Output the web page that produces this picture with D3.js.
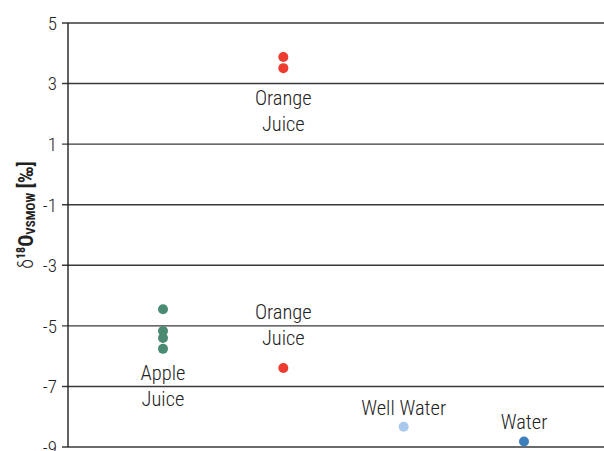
<!DOCTYPE html>
<html>
<head>
<meta charset="utf-8">
<script src="https://cdn.jsdelivr.net/npm/d3@7"></script>
<style>
	body { margin: 0; background: #fff; }
	svg { display: block; font-family: 'Roboto Condensed', 'Liberation Sans Narrow', 'DejaVu Sans Condensed', sans-serif; }
</style>
</head>
<body>
<svg id="chart" width="604" height="451"></svg>
<script>
const W = 604;

const categories = ['Apple Juice', 'Orange Juice', 'Well Water', 'Water'];
const yTicks = [5, 3, 1, -1, -3, -5, -7, -9];

// δ18O values per sample group
const appleJuice = [-4.45, -5.17, -5.40, -5.76];
const orangeJuiceHigh = [3.88, 3.51];
const orangeJuiceLow = [-6.39];
const wellWater = [-8.33];
const water = [-8.82];

const colors = {
	apple: '#4b8b71',
	orange: '#ee3b2f',
	well: '#a9c9ea',
	water: '#3d7fbd'
};

// gap = distance in px from the nearest point to the nearest label line
const groups = [
	{ cat: 'Apple Juice', values: appleJuice, color: colors.apple, label: ['Apple', 'Juice'], below: true, gap: 24 },
	{ cat: 'Orange Juice', values: orangeJuiceHigh, color: colors.orange, label: ['Orange', 'Juice'], below: true, gap: 29 },
	{ cat: 'Orange Juice', values: orangeJuiceLow, color: colors.orange, label: ['Orange', 'Juice'], below: false, gap: 30 },
	{ cat: 'Well Water', values: wellWater, color: colors.well, label: ['Well Water'], below: false, gap: 19 },
	{ cat: 'Water', values: water, color: colors.water, label: ['Water'], below: false, gap: 20 }
];

const marginL = 68;
const plotTop = 23;
const plotBottom = 447;

const x = d3.scalePoint().domain(categories).range([163, 524]);
const y = d3.scaleLinear().domain([-9, 5]).range([plotBottom, plotTop]);

const svg = d3.select('#chart');

// gridlines
svg.append('g')
	.selectAll('line')
	.data(yTicks)
	.join('line')
	.attr('x1', marginL - 6)
	.attr('x2', W)
	.attr('y1', d => y(d))
	.attr('y2', d => y(d))
	.attr('stroke', '#3a3a3a')
	.attr('stroke-width', 1.4);

// axis line
svg.append('line')
	.attr('x1', marginL)
	.attr('x2', marginL)
	.attr('y1', plotTop)
	.attr('y2', plotBottom)
	.attr('stroke', '#222')
	.attr('stroke-width', 1.4);

// tick labels
svg.append('g')
	.selectAll('text')
	.data(yTicks)
	.join('text')
	.attr('x', 57)
	.attr('y', d => y(d))
	.attr('dy', '0.36em')
	.attr('text-anchor', 'end')
	.attr('font-size', 19)
	.attr('font-weight', 300)
	.attr('fill', '#222')
	.text(d => d);

// y label
const yl = svg.append('text')
	.attr('transform', 'translate(33, 215) rotate(-90)')
	.attr('text-anchor', 'middle')
	.attr('font-size', 20)
	.attr('fill', '#222');
yl.append('tspan').attr('font-weight', 300).text('δ');
yl.append('tspan').attr('font-size', 12).attr('font-weight', 'bold').attr('dy', -8).text('18');
yl.append('tspan').attr('font-weight', 'bold').attr('dy', 8).text('O');
yl.append('tspan').attr('font-size', 13).attr('font-weight', 'bold').attr('dy', 2).text('VSMOW');
yl.append('tspan').attr('font-weight', 'bold').attr('dy', -2).text(' [‰]');

// points + labels
groups.forEach(g => {
	svg.append('g')
		.selectAll('circle')
		.data(g.values)
		.join('circle')
		.attr('cx', x(g.cat))
		.attr('cy', d => y(d))
		.attr('r', 5)
		.attr('fill', g.color);

	const lineH = 26;
	let y0;
	if (g.below) y0 = y(d3.min(g.values)) + g.gap;
	else y0 = y(d3.max(g.values)) - g.gap - (g.label.length - 1) * lineH;

	svg.append('g')
		.selectAll('text')
		.data(g.label)
		.join('text')
		.attr('x', x(g.cat))
		.attr('y', (d, i) => y0 + i * lineH)
		.attr('dy', '0.36em')
		.attr('text-anchor', 'middle')
		.attr('font-size', 20.5)
		.attr('font-weight', 300)
		.attr('fill', '#222')
		.text(d => d);
});
</script>
</body>
</html>
